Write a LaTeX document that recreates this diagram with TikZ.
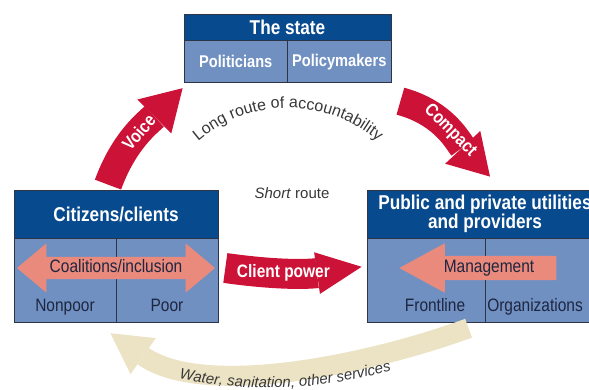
\documentclass[tikz,border=0pt]{standalone}
\usepackage{fontspec}
\setmainfont{Liberation Sans}
\newfontfamily\condsans[FakeStretch=0.86]{Liberation Sans}
\usepackage{xcolor}
\definecolor{hdrblue}{RGB}{8,74,142}
\definecolor{cellblue}{RGB}{112,144,194}
\definecolor{edgegrey}{RGB}{45,52,70}
\definecolor{inkblue}{RGB}{30,38,64}
\definecolor{crimson}{RGB}{204,18,54}
\definecolor{salmon}{RGB}{234,138,124}
\definecolor{sand}{RGB}{236,226,196}
\definecolor{textgrey}{RGB}{55,55,55}
\usetikzlibrary{arrows.meta,positioning,shapes.arrows,decorations.text}

\newcommand{\hdrfont}{\condsans\bfseries\fontsize{20}{19}\selectfont}
\newcommand{\subfont}{\condsans\bfseries\fontsize{17}{19}\selectfont}
\newcommand{\lblfont}{\condsans\fontsize{18}{20}\selectfont}
\newcommand{\arrowfont}{\condsans\bfseries\fontsize{18}{20}\selectfont}
\newcommand{\routefont}{\fontsize{15}{17}\selectfont}

\begin{document}
\begin{tikzpicture}[
    x=1pt, y=1pt,
    hdr/.style={rectangle, draw=edgegrey, line width=0.8pt, fill=hdrblue, text=white, font=\hdrfont, inner sep=0pt, align=center},
    cell/.style={rectangle, draw=edgegrey, line width=0.8pt, fill=cellblue, inner sep=0pt},
    sub/.style={text=white, font=\subfont},
    lbl/.style={text=inkblue, font=\lblfont, inner sep=0pt, anchor=base},
    dblarrow/.style={double arrow, fill=salmon, double arrow head extend=13.5pt, double arrow tip angle=80, minimum height=198pt, inner xsep=1pt, inner ysep=2.5pt, text height=13pt, text depth=4pt, text=inkblue, font=\lblfont},
    sglarrow/.style={single arrow, shape border rotate=180, fill=salmon, single arrow head extend=12.5pt, single arrow tip angle=57, minimum height=157pt, inner xsep=1pt, inner ysep=3.5pt, text height=13pt, text depth=4pt, text=inkblue, font=\lblfont},
    redarrow/.style={draw=crimson, line width=28pt, -{Triangle[width=48pt, length=40pt, line width=0pt]}},
    servarrow/.style={draw=sand, line width=20pt, -{Triangle[width=44pt, length=40pt, line width=0pt]}},
    arrowtext/.style={text=white, font=\arrowfont, inner sep=0pt}
  ]
    \useasboundingbox (0,0) rectangle (589,389);
    \clip (0,0) rectangle (589,389);

    % The state
    \node [hdr, minimum width=207pt, minimum height=26pt] (state) at (287.5,362) {The state};
    \node [cell, sub, minimum width=103.5pt, minimum height=42pt, anchor=north west] (polit) at (state.south west) {Politicians};
    \node [cell, sub, minimum width=103.5pt, minimum height=42pt, anchor=north east] (polmk) at (state.south east) {Policymakers};

    % Citizens/clients
    \node [hdr, minimum width=204pt, minimum height=48pt] (citz) at (116,175) {Citizens/clients};
    \node [cell, minimum width=102pt, minimum height=84pt, anchor=north west] (nonpoor) at (citz.south west) {};
    \node [cell, minimum width=102pt, minimum height=84pt, anchor=north east] (poor) at (citz.south east) {};

    % Public and private utilities and providers
    \node [hdr, minimum width=236pt, minimum height=48pt] (prov) at (485,175) {Public and private utilities\\and providers};
    \node [cell, minimum width=118pt, minimum height=84pt, anchor=north west] (front) at (prov.south west) {};
    \node [cell, minimum width=118pt, minimum height=84pt, anchor=north east] (orgs) at (prov.south east) {};

    % Cell labels
    \node [lbl] (nonpoorlbl) at ([yshift=12pt]nonpoor.south) {Nonpoor};
    \node [lbl] (poorlbl) at ([yshift=12pt]poor.south) {Poor};
    \node [lbl] (frontlbl) at ([shift={(9pt,12pt)}]front.south) {Frontline};
    \node [lbl] (orgslbl) at ([shift={(-9pt,12pt)}]orgs.south) {Organizations};

    % Arrows inside the boxes
    \node [dblarrow] (coal) at (116,121) {Coalitions/inclusion};
    \node [sglarrow] (mgmt) at (489,121) {Management};

    % Long route
    \draw [redarrow] ([shift={(-8pt,5pt)}]citz.north) to [out=70, in=225] node [sloped, arrowtext] (voice) {Voice} ([shift={(-1pt,-5pt)}]polit.south west);
    \draw [redarrow] ([shift={(9pt,-18pt)}]polmk.south east) to [out=-15, in=133] node [sloped, arrowtext] (compact) {Compact} ([shift={(5pt,13pt)}]prov.north);
    \path [decorate, decoration={text along path, text align=center, text={|\fontsize{16}{18}\selectfont\color{textgrey}|Long route of accountability}}] (182.3,231.7) arc [start angle=140, end angle=40, radius=138];

    % Short route
    \node [font=\routefont, text=textgrey] (short) at (292,196) {\textit{Short} route};
    \draw [redarrow, line width=30pt, -{Triangle[width=42pt, length=45pt, line width=0pt]}] ([xshift=10pt]coal.east) to [out=-8, in=188] node [arrowtext, pos=0.42] (client) {Client power} ([shift={(-5pt,14pt)}]front.west);

    % Services back to the citizens
    \draw [servarrow] ([shift={(-16pt,-5pt)}]orgs.south west) to [out=200, in=-35, looseness=0.8] ([shift={(-6pt,-10pt)}]nonpoor.south east);
    \path [decorate, decoration={text along path, text align=center, text={|\routefont\itshape\color{textgrey}|Water, sanitation, other services}}] (160,14) to [out=-12, in=195] (410,23);

\end{tikzpicture}
\end{document}
